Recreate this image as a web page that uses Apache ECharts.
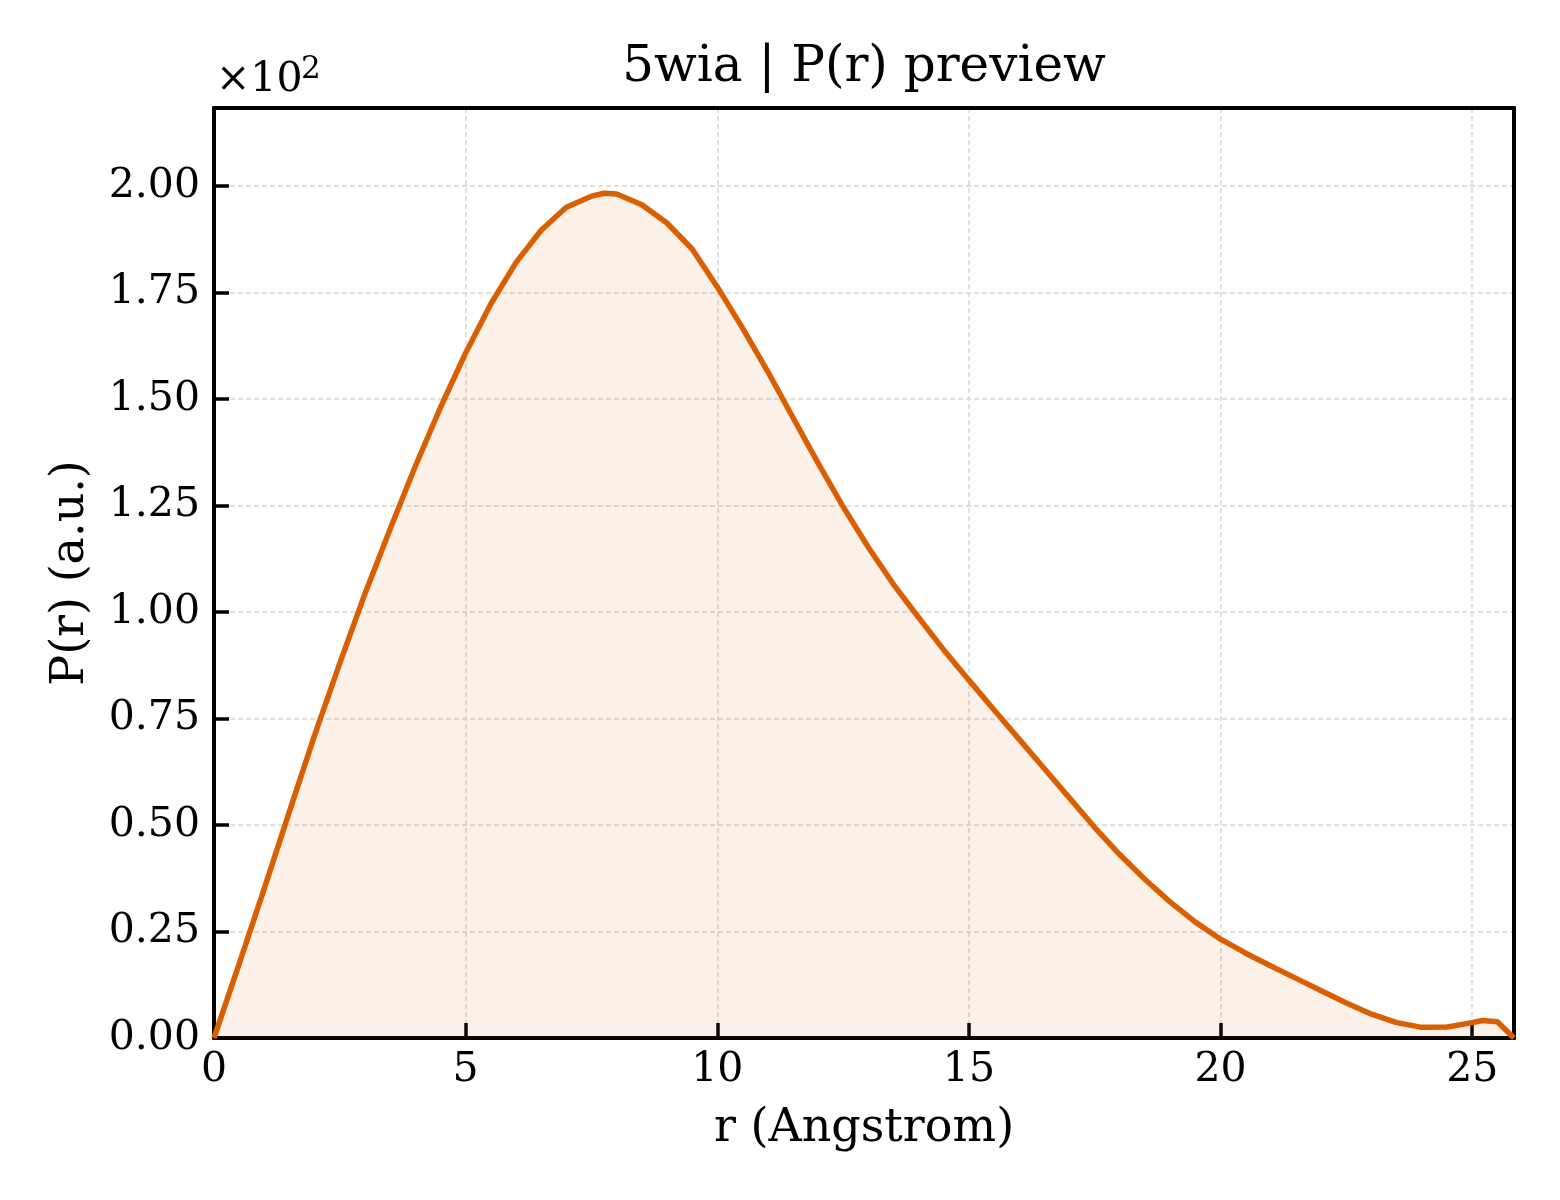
<!DOCTYPE html>
<html lang="en">

<head>
    <meta charset="UTF-8">
    <title>5wia P(r) preview</title>
    <script src="https://cdnjs.cloudflare.com/ajax/libs/echarts/6.0.0/echarts.min.js"></script>
    <style>
        html, body { margin: 0; padding: 0; background: #fff; }
    </style>
</head>

<body>
    <div id="main" style="width: 1560px;height:1200px;"></div>

    <script>
        // r in Angstrom, P(r) in raw units (axis shows x10^2)
        var r = [0, 0.5, 1, 1.5, 2, 2.5, 3, 3.5, 4, 4.5,
            5, 5.5, 6, 6.5, 7, 7.5, 7.75, 8, 8.5, 9, 9.5,
            10, 10.5, 11, 11.5, 12, 12.5, 13, 13.5, 14, 14.5,
            15, 15.5, 16, 16.5, 17, 17.5, 18, 18.5, 19, 19.5,
            20, 20.5, 21, 21.5, 22, 22.5, 23, 23.5, 24, 24.5,
            25, 25.2, 25.5, 25.83];
        var pr = [0, 17.4, 35.1, 53.2, 71.1, 88.0, 104.3, 119.5, 134.2, 148.0,
            160.8, 172.3, 182.0, 189.6, 195.0, 197.6, 198.3, 198.1, 195.6, 191.3, 185.2,
            176.3, 166.7, 156.5, 145.7, 135.0, 124.7, 115.2, 106.5, 98.7, 91.1,
            84.0, 77.0, 70.1, 63.2, 56.3, 49.4, 43.0, 37.2, 31.9, 27.2,
            23.2, 19.9, 16.9, 14.0, 11.1, 8.2, 5.6, 3.6, 2.5, 2.6,
            3.6, 4.1, 3.8, 0];

        var xMax = 25.83;
        var yMax = 218.3;
        var titleText = "5wia | P(r) preview";
        var xName = "r (Angstrom)";
        var yName = "P(r) (a.u.)";

        var font = "DejaVu Serif";
        var lineColor = "#d95f02";

        var points = r.map(function (v, i) { return [v, pr[i]]; });

        var chart1 = echarts.init(document.getElementById('main'), null, { renderer: 'canvas' });

        var gridLine = {
            show: true,
            lineStyle: { color: '#d6d6d6', width: 1.5, type: [5, 3] }
        };
        var frameLine = { show: true, onZero: false, lineStyle: { color: '#000', width: 4 } };
        var tickStyle = { show: true, inside: true, length: 15, lineStyle: { color: '#000', width: 3.5 } };

        var option = {
            animation: false,
            backgroundColor: '#fff',
            grid: { left: 214, right: 46, top: 108, bottom: 162 },
            graphic: [
                {
                    type: 'text', x: 864, y: 68,
                    style: {
                        text: titleText, fill: '#000', textAlign: 'center', textVerticalAlign: 'middle',
                        font: '50px "DejaVu Serif"'
                    }
                },
                {
                    type: 'text', x: 216, y: 101,
                    style: {
                        text: '\u00d710', fill: '#000', textAlign: 'left', textVerticalAlign: 'bottom',
                        font: '41px "DejaVu Serif"'
                    }
                },
                {
                    type: 'text', x: 301, y: 54,
                    style: {
                        text: '2', fill: '#000', textAlign: 'left', textVerticalAlign: 'top',
                        font: '31px "DejaVu Serif"'
                    }
                }
            ],
            xAxis: [
                {
                    type: 'value',
                    min: 0, max: xMax, interval: 5,
                    name: xName, nameLocation: 'middle', nameGap: 68,
                    nameTextStyle: { fontFamily: font, fontSize: 46, color: '#000' },
                    axisLine: frameLine,
                    axisTick: tickStyle,
                    axisLabel: {
                        fontFamily: font, fontSize: 41, color: '#000', margin: 12,
                        showMaxLabel: false
                    },
                    splitLine: gridLine
                },
                {
                    type: 'value', position: 'top',
                    min: 0, max: xMax,
                    axisLine: frameLine,
                    axisTick: { show: false }, axisLabel: { show: false }, splitLine: { show: false }
                }
            ],
            yAxis: [
                {
                    type: 'value',
                    min: 0, max: yMax, interval: 25,
                    name: yName, nameLocation: 'middle', nameGap: 120, nameRotate: 90,
                    nameTextStyle: { fontFamily: font, fontSize: 46, color: '#000' },
                    axisLine: frameLine,
                    axisTick: tickStyle,
                    axisLabel: {
                        fontFamily: font, fontSize: 41, color: '#000', margin: 14,
                        showMaxLabel: false,
                        formatter: function (v) { return (v / 100).toFixed(2); }
                    },
                    splitLine: gridLine
                },
                {
                    type: 'value', position: 'right',
                    min: 0, max: yMax,
                    axisLine: frameLine,
                    axisTick: { show: false }, axisLabel: { show: false }, splitLine: { show: false }
                }
            ],
            series: [
                {
                    name: 'P(r)',
                    type: 'line',
                    data: points,
                    showSymbol: false,
                    lineStyle: { color: lineColor, width: 5.5 },
                    areaStyle: { color: 'rgba(217,95,2,0.13)' },
                    z: 3
                }
            ]
        };

        chart1.setOption(option);
    </script>
</body>

</html>
